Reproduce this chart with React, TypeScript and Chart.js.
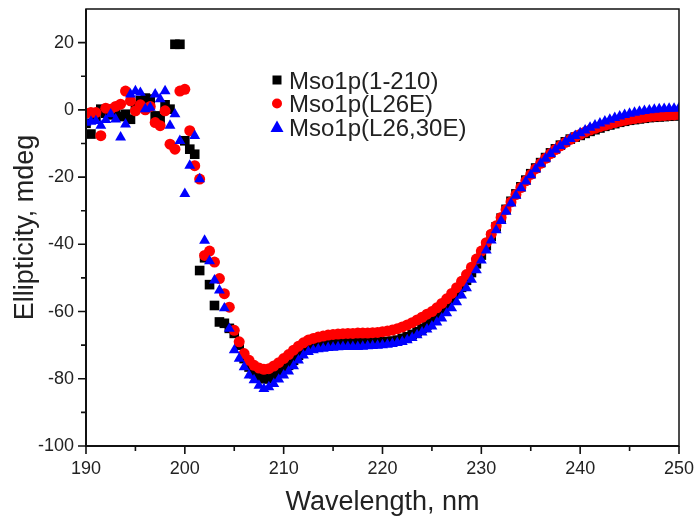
import React, { useEffect, useRef } from "react";
import { Chart, registerables } from "chart.js";

Chart.register(...registerables);

// ---------------- DATA ----------------
const wavelengths = [
  190, 190.5, 191, 191.5, 192, 192.5, 193, 193.5, 194, 194.5,
  195, 195.5, 196, 196.5, 197, 197.5, 198, 198.5, 199, 199.5,
  200, 200.5, 201, 201.5, 202, 202.5, 203, 203.5, 204, 204.5,
  205, 205.5, 206, 206.5, 207, 207.5, 208, 208.5, 209, 209.5,
  210, 210.5, 211, 211.5, 212, 212.5, 213, 213.5, 214, 214.5,
  215, 215.5, 216, 216.5, 217, 217.5, 218, 218.5, 219, 219.5,
  220, 220.5, 221, 221.5, 222, 222.5, 223, 223.5, 224, 224.5,
  225, 225.5, 226, 226.5, 227, 227.5, 228, 228.5, 229, 229.5,
  230, 230.5, 231, 231.5, 232, 232.5, 233, 233.5, 234, 234.5,
  235, 235.5, 236, 236.5, 237, 237.5, 238, 238.5, 239, 239.5,
  240, 240.5, 241, 241.5, 242, 242.5, 243, 243.5, 244, 244.5,
  245, 245.5, 246, 246.5, 247, 247.5, 248, 248.5, 249, 249.5,
  250,
];

const mso1p_1_210 = [
  -4, -7.2, -2, 0.2, -1, -1.5, -0.8, -2, -1.3, -2.8,
  1, 2.7, 3.5, 3.2, -1.8, -2.5, 1.5, 0.2, 19.5, 19.5,
  -9.2, -11.7, -13.2, -47.8, -44, -52, -58.2, -63.1, -63.5, -65,
  -66.5, -70, -74, -76.5, -78.5, -79.5, -80, -80, -79, -78,
  -77, -76, -74.5, -73, -71.5, -70.5, -70, -69.8, -69.6, -69.5,
  -69.4, -69.3, -69.2, -69.2, -69.1, -69.1, -69, -69, -69, -69,
  -69, -68.9, -68.8, -68.5, -68, -67.5, -66.8, -66, -65, -64,
  -62.3, -61, -59.6, -58.1, -56.5, -54.7, -52.8, -50.7, -48.4, -45.8,
  -43.2, -40.4, -37.6, -34.8, -32.2, -29.6, -27.2, -25, -22.9, -20.9,
  -19, -17.3, -15.7, -14.2, -12.8, -11.6, -10.5, -9.5, -8.7, -8.1,
  -7.6, -7, -6.4, -5.9, -5.4, -4.9, -4.5, -4.1, -3.7, -3.4,
  -3.1, -2.9, -2.7, -2.5, -2.3, -2.2, -2.1, -2, -1.9, -1.8,
  -1.7,
];

const mso1p_L26E = [
  -1, -0.8, -0.8, -7.7, 0.5, 0.2, 1, 1.7, 5.6, 2.7,
  -0.3, 1.5, 0, 1, -3.8, -4.7, -0.3, -10.2, -11.7, 5.6,
  6.1, -6.2, -16.6, -20.6, -43.3, -42, -45.3, -50.2, -54.7, -58.7,
  -65.6, -69, -72.5, -74.5, -76, -76.8, -77.2, -77, -76.2, -75.2,
  -74, -72.8, -71.5, -70.3, -69.3, -68.5, -68, -67.6, -67.3, -67,
  -66.8, -66.7, -66.6, -66.5, -66.5, -66.4, -66.4, -66.4, -66.3, -66.2,
  -66, -65.8, -65.5, -65.1, -64.6, -64, -63.3, -62.5, -61.7, -60.8,
  -60, -58.9, -57.6, -56.2, -54.6, -52.9, -51, -49, -46.8, -44.4,
  -42, -39.5, -37, -34.5, -32, -29.7, -27.4, -25.2, -23.1, -21.1,
  -19.2, -17.5, -15.9, -14.4, -13, -11.8, -10.7, -9.7, -8.8, -8,
  -7.3, -6.6, -6, -5.5, -5, -4.6, -4.2, -3.8, -3.4, -3.1,
  -2.8, -2.6, -2.4, -2.2, -2, -1.9, -1.8, -1.7, -1.6, -1.5,
  -1.4,
];

const mso1p_L26_30E = [
  -3.8, -3.5, -3.3, -4.7, -3, -1.3, -2.8, -8.2, -4.3, 4.6,
  5.6, 5.1, 0.2, 0.7, 4.6, 3.2, 5.6, -4.7, -1.3, -9.2,
  -25, -16.6, -7.7, -20.6, -38.9, -45, -50.7, -53.7, -59, -65.1,
  -71.5, -74, -76.5, -79, -80.4, -82, -83, -82.5, -81.5, -80.2,
  -79, -77.8, -76.2, -74.5, -73, -72, -71.5, -71.2, -71, -70.8,
  -70.7, -70.6, -70.5, -70.5, -70.5, -70.5, -70.4, -70.3, -70.2, -70.1,
  -70, -69.8, -69.6, -69.3, -69, -68.5, -67.8, -67, -66.2, -65.3,
  -64.4, -63.2, -62, -60.5, -59, -57.2, -55.2, -53, -50.5, -47.7,
  -44.8, -41.8, -38.8, -35.8, -33, -30.3, -27.8, -25.5, -23.3, -21.3,
  -19.4, -17.6, -16, -14.5, -13.1, -11.8, -10.7, -9.6, -8.6, -7.7,
  -6.9, -6.1, -5.3, -4.6, -4, -3.4, -2.9, -2.4, -1.9, -1.5,
  -1.1, -0.8, -0.5, -0.3, -0.1, 0.1, 0.2, 0.3, 0.4, 0.4,
  0.5,
];

const seriesLabels = ["Mso1p(1-210)", "Mso1p(L26E)", "Mso1p(L26,30E)"];

const xMajorTicks = [190, 200, 210, 220, 230, 240, 250];
const xMinorTicks = [195, 205, 215, 225, 235, 245];
const yMajorTicks = [-100, -80, -60, -40, -20, 0, 20];
const yMinorTicks = [-90, -70, -50, -30, -10, 10];

const xTitle = "Wavelength, nm";
const yTitle = "Ellipticity, mdeg";

// ---------------- STYLE ----------------
const FONT = '"Liberation Sans", Arial, Helvetica, sans-serif';
const TEXT = "#222222";

const framePlugin = {
  id: "frameTicks",
  afterDraw(chart: any) {
    const { ctx, chartArea: a, scales } = chart;
    const xs = scales.x;
    const ys = scales.y;
    ctx.save();
    ctx.strokeStyle = "#111111";
    ctx.lineWidth = 1.5;
    ctx.strokeRect(a.left, a.top, a.right - a.left, a.bottom - a.top);
    ctx.lineWidth = 2;
    ctx.beginPath();
    ctx.moveTo(a.left, a.top);
    ctx.lineTo(a.left, a.bottom);
    ctx.lineTo(a.right, a.bottom);
    ctx.stroke();
    ctx.lineWidth = 1.6;
    ctx.beginPath();
    xMajorTicks.forEach((v) => {
      const p = xs.getPixelForValue(v);
      ctx.moveTo(p, a.bottom);
      ctx.lineTo(p, a.bottom + 8);
    });
    xMinorTicks.forEach((v) => {
      const p = xs.getPixelForValue(v);
      ctx.moveTo(p, a.bottom);
      ctx.lineTo(p, a.bottom + 5);
    });
    yMajorTicks.forEach((v) => {
      const p = ys.getPixelForValue(v);
      ctx.moveTo(a.left, p);
      ctx.lineTo(a.left - 8, p);
    });
    yMinorTicks.forEach((v) => {
      const p = ys.getPixelForValue(v);
      ctx.moveTo(a.left, p);
      ctx.lineTo(a.left - 5, p);
    });
    ctx.stroke();
    ctx.restore();
  },
};

const legendPlugin = {
  id: "insetLegend",
  afterDatasetsDraw(chart: any) {
    const { ctx } = chart;
    const markerX = 277;
    const textX = 289;
    const baseline0 = 88.5;
    const gap = 23.5;
    ctx.save();
    chart.data.datasets.forEach((ds: any, i: number) => {
      const base = baseline0 + i * gap;
      const cy = base - 8.5;
      ctx.fillStyle = ds.backgroundColor;
      ctx.beginPath();
      if (ds.pointStyle === "rect") {
        ctx.rect(markerX - 4.5, cy - 4.5, 9, 9);
      } else if (ds.pointStyle === "circle") {
        ctx.arc(markerX, cy, 5, 0, Math.PI * 2);
      } else {
        ctx.moveTo(markerX, cy - 6.5);
        ctx.lineTo(markerX + 6.5, cy + 5);
        ctx.lineTo(markerX - 6.5, cy + 5);
        ctx.closePath();
      }
      ctx.fill();
      ctx.fillStyle = TEXT;
      ctx.font = `24px ${FONT}`;
      ctx.textAlign = "left";
      ctx.textBaseline = "alphabetic";
      ctx.fillText(ds.label, textX, base);
    });
    ctx.restore();
  },
};

function toPoints(values: number[]) {
  return wavelengths.map((w, i) => ({ x: w, y: values[i] }));
}

export default function App() {
  const ref = useRef<HTMLCanvasElement | null>(null);

  useEffect(() => {
    document.body.style.margin = "0";
    const canvas = ref.current;
    if (!canvas) return;
    const chart = new Chart(canvas, {
      type: "scatter",
      data: {
        datasets: [
          {
            label: seriesLabels[0],
            data: toPoints(mso1p_1_210),
            pointStyle: "rect",
            pointRadius: 6.8,
            pointHoverRadius: 6.8,
            pointBorderWidth: 0,
            backgroundColor: "#000000",
            borderColor: "#000000",
            order: 3,
            clip: 0,
          },
          {
            label: seriesLabels[1],
            data: toPoints(mso1p_L26E),
            pointStyle: "circle",
            pointRadius: 5.5,
            pointHoverRadius: 5.5,
            pointBorderWidth: 0,
            backgroundColor: "#ff0000",
            borderColor: "#ff0000",
            order: 2,
            clip: 0,
          },
          {
            label: seriesLabels[2],
            data: toPoints(mso1p_L26_30E),
            pointStyle: "triangle",
            pointRadius: 6.3,
            pointHoverRadius: 6.3,
            pointBorderWidth: 0,
            backgroundColor: "#0000ff",
            borderColor: "#0000ff",
            order: 1,
            clip: 0,
          },
        ],
      },
      options: {
        responsive: false,
        animation: false,
        devicePixelRatio: 1,
        layout: { padding: { top: 9, right: 20, left: 0, bottom: 0 } },
        plugins: {
          legend: { display: false },
          tooltip: { enabled: false },
          title: { display: false },
        },
        scales: {
          x: {
            type: "linear",
            min: 190,
            max: 250,
            afterBuildTicks: (s: any) => {
              s.ticks = xMajorTicks.map((v) => ({ value: v }));
            },
            afterFit: (s: any) => {
              s.height = 75;
              s.paddingLeft = 0;
              s.paddingRight = 0;
            },
            grid: { display: false, drawTicks: false },
            border: { display: false },
            ticks: {
              padding: 12,
              color: TEXT,
              font: { family: FONT, size: 18 },
              maxRotation: 0,
              autoSkip: false,
            },
            title: {
              display: true,
              text: xTitle,
              color: TEXT,
              font: { family: FONT, size: 27 },
              padding: { top: 0, bottom: 2 },
            },
          },
          y: {
            type: "linear",
            min: -100,
            max: 30,
            afterBuildTicks: (s: any) => {
              s.ticks = yMajorTicks.map((v) => ({ value: v }));
            },
            afterFit: (s: any) => {
              s.width = 86;
              s.paddingTop = 0;
              s.paddingBottom = 0;
            },
            grid: { display: false, drawTicks: false },
            border: { display: false },
            ticks: {
              padding: 12,
              color: TEXT,
              font: { family: FONT, size: 18 },
              autoSkip: false,
            },
            title: {
              display: true,
              text: yTitle,
              color: TEXT,
              font: { family: FONT, size: 27 },
              padding: { top: 9, bottom: 0 },
            },
          },
        },
      },
      plugins: [framePlugin, legendPlugin],
    } as any);
    return () => chart.destroy();
  }, []);

  return (
    <div style={{ width: 699, height: 521, position: "relative" }}>
      <canvas
        ref={ref}
        width={699}
        height={521}
        style={{ display: "block", width: "699px", height: "521px" }}
      />
    </div>
  );
}
